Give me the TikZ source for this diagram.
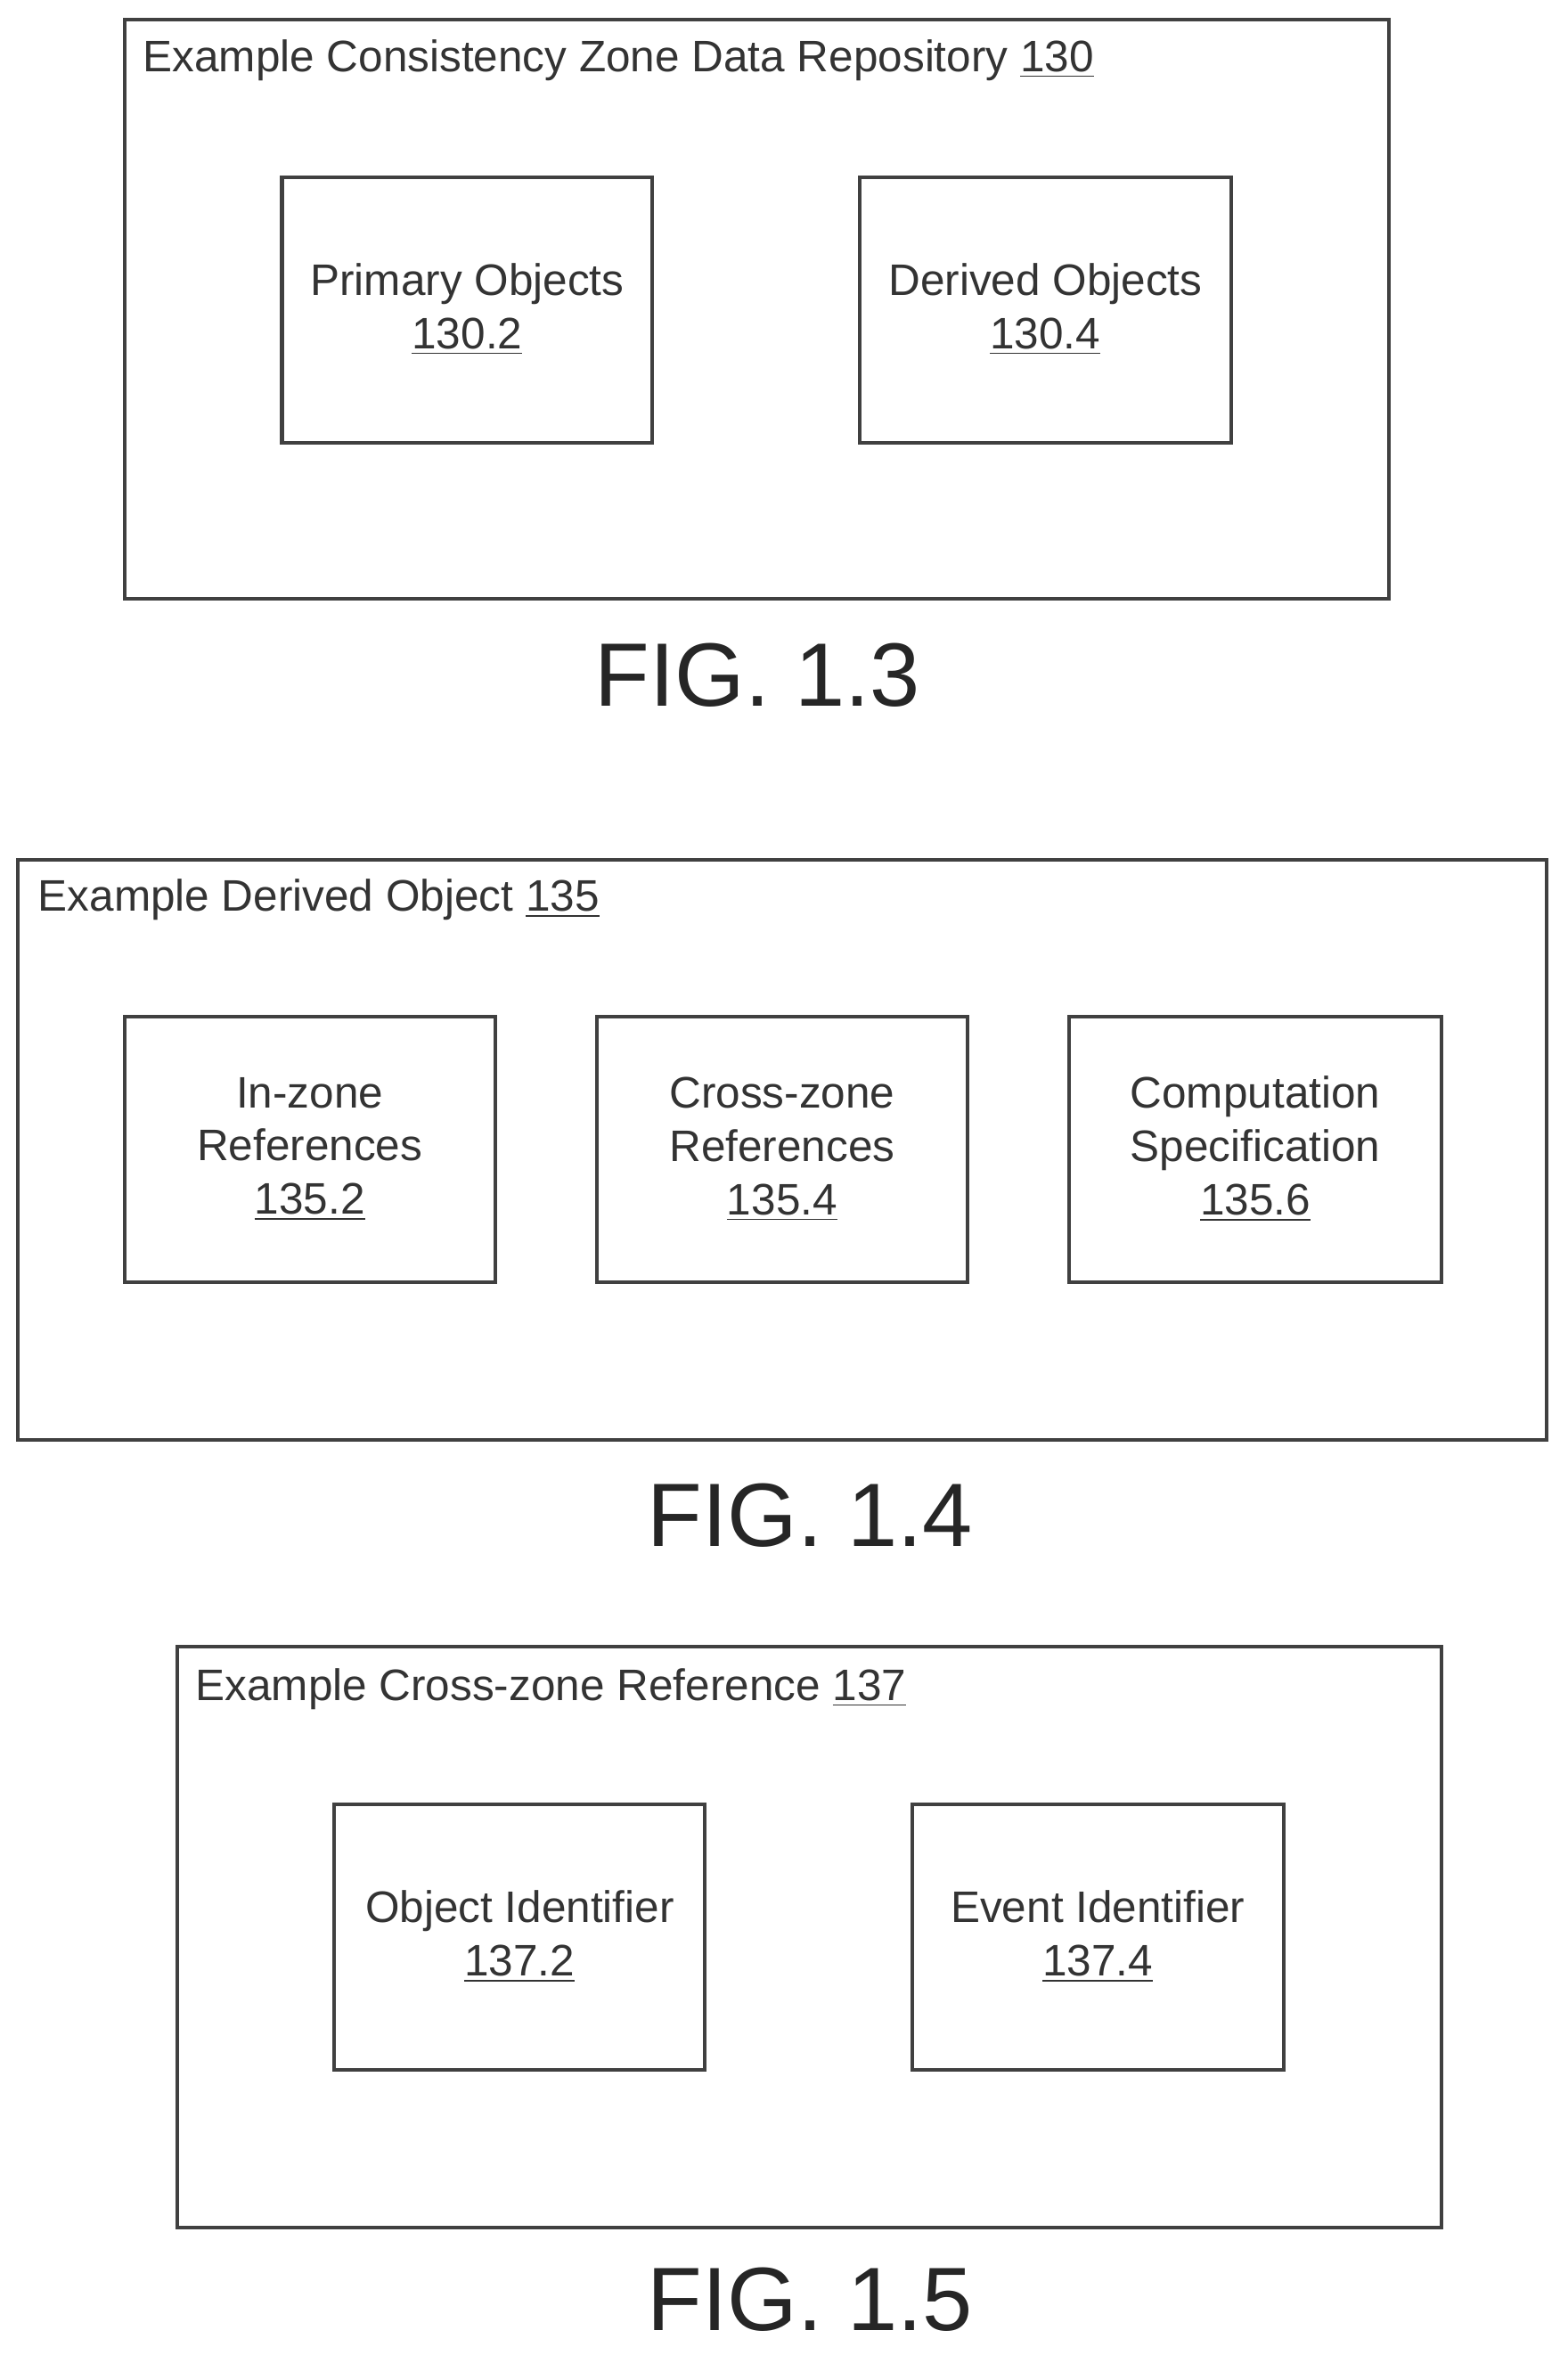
\documentclass[tikz,border=0pt]{standalone}
\usepackage{fontspec}
\setmainfont{Liberation Sans}
\begin{document}
\begin{tikzpicture}[x=0.5pt,y=-0.5pt,
  box/.style={draw=black!75,line width=1.2pt},
  lbl/.style={font=\fontsize{14.7}{17}\selectfont,text=black!80,anchor=west,inner sep=0},
  txt/.style={font=\fontsize{14.7}{17.8}\selectfont,text=black!80,align=center},
  fig/.style={font=\fontsize{30}{36}\selectfont,text=black!85}]
\useasboundingbox (0,0) rectangle (1045,1570);
% FIG 1.3
\draw[box] (83,13) rectangle (926,399);
\node[lbl] (t13) at (95,40) {Example Consistency Zone Data Repository \underline{130}};
\draw[box] (188,118) rectangle (435,295);
\node[txt] (a) at (311.5,206) {Primary Objects\\\underline{130.2}};
\draw[box] (573,118) rectangle (821,295);
\node[txt] (b) at (697,206) {Derived Objects\\\underline{130.4}};
\node[fig] (f13) at (505,450) {FIG. 1.3};
% FIG 1.4
\draw[box] (12,573) rectangle (1031,960);
\node[lbl] (t14) at (25,600) {Example Derived Object \underline{135}};
\draw[box] (83,678) rectangle (330,855);
\node[txt] (c) at (206.5,766) {In-zone\\References\\\underline{135.2}};
\draw[box] (398,678) rectangle (645,855);
\node[txt] (d) at (521.5,766) {Cross-zone\\References\\\underline{135.4}};
\draw[box] (713,678) rectangle (961,855);
\node[txt] (e) at (837,766) {Computation\\Specification\\\underline{135.6}};
\node[fig] (f14) at (540,1010) {FIG. 1.4};
% FIG 1.5
\draw[box] (118,1098) rectangle (961,1485);
\node[lbl] (t15) at (130,1126) {Example Cross-zone Reference \underline{137}};
\draw[box] (223,1203) rectangle (470,1380);
\node[txt] (g) at (346.5,1291) {Object Identifier\\\underline{137.2}};
\draw[box] (608,1203) rectangle (856,1380);
\node[txt] (h) at (732,1291) {Event Identifier\\\underline{137.4}};
\node[fig] (f15) at (540,1533) {FIG. 1.5};
\end{tikzpicture}
\end{document}
